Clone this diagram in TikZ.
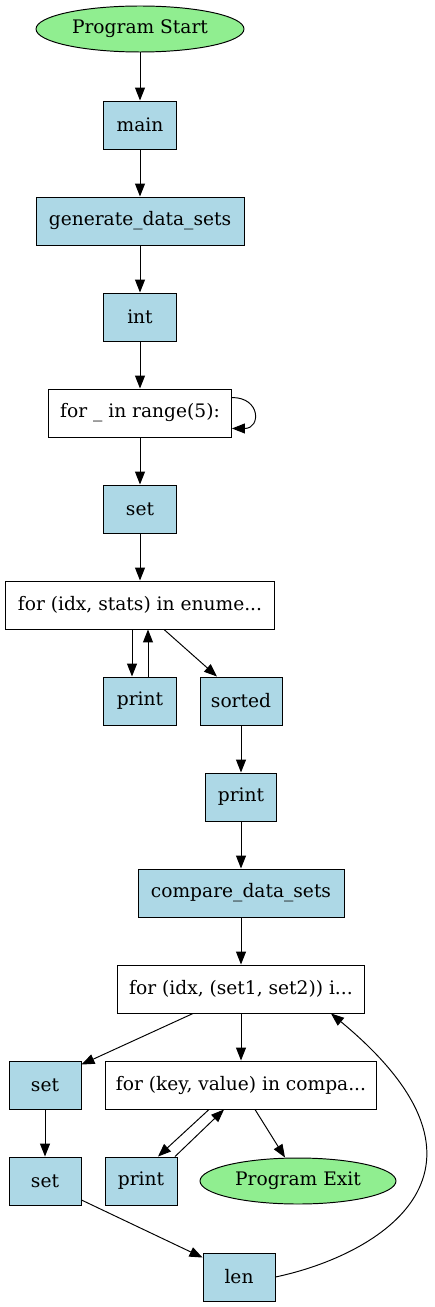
\documentclass[tikz,border=0pt]{standalone}
\usepackage{fontspec}
\setmainfont{DejaVu Serif}
\usetikzlibrary{arrows.meta,shapes.geometric,positioning}

\definecolor{fnblue}{HTML}{ADD8E6}
\definecolor{termgreen}{HTML}{90EE90}

\begin{document}
\begin{tikzpicture}[x=0.02cm, y=-0.02cm,
    every node/.style={font=\fontsize{10.6}{12}\selectfont, line width=0.55pt},
    func/.style={rectangle, draw=black, fill=fnblue, minimum height=0.96cm, inner sep=0pt},
    loopbox/.style={rectangle, draw=black, fill=white, minimum height=0.96cm, inner sep=0pt},
    term/.style={ellipse, draw=black, fill=termgreen, minimum height=0.92cm, inner sep=0pt},
    flow/.style={-{Triangle[length=0.26cm, width=0.2cm]}, line width=0.55pt}]
    \useasboundingbox (0,0) rectangle (434,1307);

    \node (start) [term, minimum width=4.16cm] at (140,29) {Program Start};
    \node (main) [func, minimum width=1.46cm] at (140,125) {main};
    \node (gen) [func, minimum width=4.16cm] at (140,221) {generate\_data\_sets};
    \node (int) [func, minimum width=1.46cm] at (140,317) {int};
    \node (range) [loopbox, minimum width=3.66cm] at (140,413) {for \_ in range(5):};
    \node (set) [func, minimum width=1.46cm] at (140,509) {set};
    \node (enum) [loopbox, minimum width=5.40cm] at (140,605) {for (idx, stats) in enume...};
    \node (print) [func, minimum width=1.46cm] at (140,701) {print};
    \node (sorted) [func, minimum width=1.64cm] at (241,701) {sorted};
    \node (printtwo) [func, minimum width=1.42cm] at (241,797) {print};
    \node (compare) [func, minimum width=4.12cm] at (241,893) {compare\_data\_sets};
    \node (pairs) [loopbox, minimum width=4.96cm] at (241,989) {for (idx, (set1, set2)) i...};
    \node (setone) [func, minimum width=1.44cm] at (45,1085) {set};
    \node (items) [loopbox, minimum width=5.44cm] at (241,1085) {for (key, value) in compa...};
    \node (settwo) [func, minimum width=1.44cm] at (45,1181) {set};
    \node (printthree) [func, minimum width=1.44cm] at (141,1181) {print};
    \node (exit) [term, minimum width=3.92cm] at (298,1181) {Program Exit};
    \node (len) [func, minimum width=1.44cm] at (239,1277) {len};

    \draw [flow] (start) -- (main);
    \draw [flow] (main) -- (gen);
    \draw [flow] (gen) -- (int);
    \draw [flow] (int) -- (range);
    \draw [flow] ([yshift=-0.18cm]range.north east) to [out=0, in=0, looseness=2.4] ([yshift=0.18cm]range.south east);
    \draw [flow] (range) -- (set);
    \draw [flow] (set) -- (enum);
    \draw [flow] ([xshift=-0.16cm]enum.south) -- ([xshift=-0.16cm]print.north);
    \draw [flow] ([xshift=0.16cm]print.north) -- ([xshift=0.16cm]enum.south);
    \draw [flow] ([xshift=0.48cm]enum.south) -- ([xshift=-0.48cm]sorted.north);
    \draw [flow] (sorted) -- (printtwo);
    \draw [flow] (printtwo) -- (compare);
    \draw [flow] (compare) -- (pairs);
    \draw [flow] ([xshift=-0.96cm]pairs.south) -- ([yshift=-0.08cm]setone.north east);
    \draw [flow] (pairs) -- (items);
    \draw [flow] (setone) -- (settwo);
    \draw [flow] ([yshift=-0.38cm]settwo.east) -- ([yshift=-0.1cm]len.north west);
    \draw [flow] (len.east) .. controls (380,1255) and (520,1170) .. ([xshift=1.8cm]pairs.south);
    \draw [flow] ([xshift=-0.64cm]items.south) -- ([xshift=0.34cm]printthree.north);
    \draw [flow] ([xshift=0.68cm]printthree.north) -- ([xshift=-0.34cm]items.south);
    \draw [flow] ([xshift=0.28cm]items.south) -- ([xshift=-0.26cm]exit.north);
\end{tikzpicture}
\end{document}
